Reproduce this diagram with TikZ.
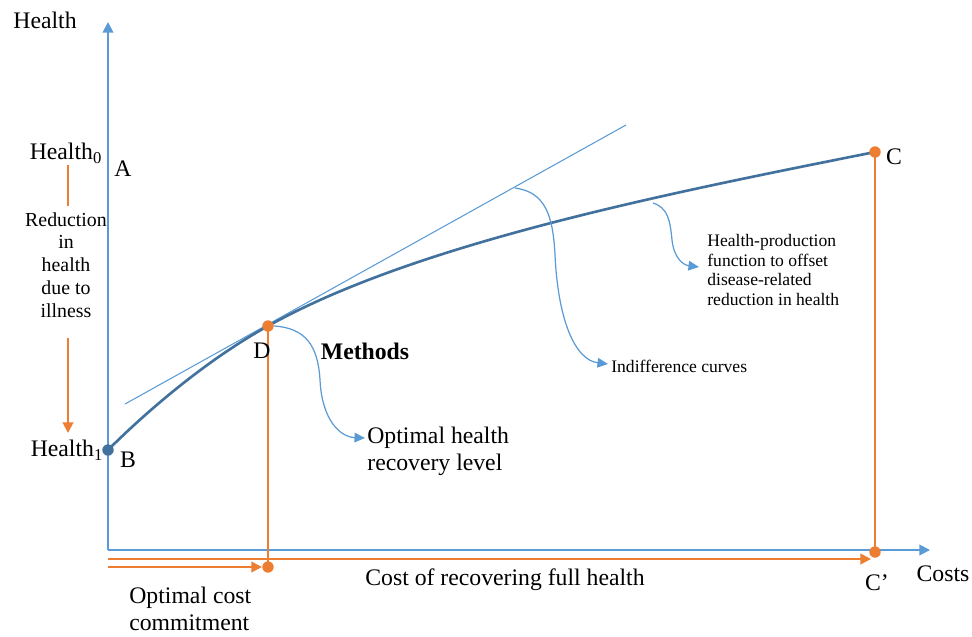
\documentclass[tikz,border=0pt]{standalone}
\usepackage{fontspec}
\setmainfont{Liberation Serif}
\usetikzlibrary{arrows.meta}
\definecolor{axisblue}{HTML}{5B9BD5}
\definecolor{curveblue}{HTML}{41719C}
\definecolor{costorange}{HTML}{ED7D31}

\begin{document}
\begin{tikzpicture}[x=0.02cm, y=-0.02cm,
        lbl/.style={font=\fontsize{13.5}{15.5}\selectfont, inner sep=0pt},
        note/.style={font=\fontsize{10}{11.3}\selectfont, inner sep=0pt, align=left},
        dot/.style={circle, fill, inner sep=0pt, minimum size=6.5pt},
        tip/.style={-{Triangle[length=6pt, width=6pt]}},
        smalltip/.style={-{Triangle[length=6pt, width=5.5pt]}},
        callout/.style={axisblue, line width=0.7pt, smalltip},
        costline/.style={costorange, line width=1.1pt}]
    \useasboundingbox (0,0) rectangle (972,636);

    \coordinate (O) at (108,550);
    \coordinate (ytop) at (108,22);
    \coordinate (xend) at (930,550);
    \coordinate (pB) at (108,450);
    \coordinate (pD) at (268,326);
    \coordinate (pC) at (875,152);
    \coordinate (pCp) at (875,552);
    \coordinate (pDb) at (268,567);
    \coordinate (t1) at (125,404);
    \coordinate (t2) at (626,125);
    \coordinate (tD) at (515,188);
    \coordinate (hpC) at (653,203);

    % axes
    \draw[axisblue, line width=1.1pt, tip] (O) -- (ytop);
    \draw[axisblue, line width=1.1pt, tip] (O) -- (xend);

    % tangent and production curve
    \draw[axisblue, line width=0.6pt] (t1) -- (t2);
    \draw[curveblue, line width=1.5pt] (pB) .. controls (148,410) and (208,359) .. (pD)
        .. controls (418,242) and (675,192) .. (pC);

    % cost lines
    \draw[costline] (pD) -- (pDb);
    \draw[costline] (pC) -- (pCp);
    \coordinate (s1) at (108,567);
    \coordinate (s2) at (108,559);
    \coordinate (e2) at (871,559);

    \node[dot, curveblue] (b) at (pB) {};
    \node[dot, costorange] (d) at (pD) {};
    \node[dot, costorange] (c) at (pC) {};
    \node[dot, costorange] (cp) at (pCp) {};
    \node[dot, costorange] (db) at (pDb) {};

    \draw[costline, tip] (s1) -- (db);
    \draw[costline, tip] (s2) -- (e2);

    % labels
    \node[lbl] (health) at (45,20) {Health};
    \node[lbl] (costs) at (943,574) {Costs};
    \node[lbl] (h0) at (66,153) {Health\textsubscript{0}};
    \node[lbl] (a) at (123,169) {A};
    \node[lbl] (h1) at (67,450) {Health\textsubscript{1}};
    \node[lbl] (blbl) at (128,460) {B};
    \node[lbl] (dlbl) at (262,351) {D};
    \node[lbl] (clbl) at (894,157) {C};
    \node[lbl] (cplbl) at (877,583) {C’};
    \node[font={\fontsize{13.5}{15.5}\selectfont\bfseries}, inner sep=0pt] (methods) at (365,351) {Methods};
    \node[lbl] (cost) at (505,580) {Cost of recovering full health};
    \node[lbl, align=left, anchor=west] (commit) at (129,609) {Optimal cost\\commitment};

    % reduction in health
    \node[font=\fontsize{11.3}{13}\selectfont, align=center, inner sep=0pt] (redu) at (66,265)
        {Reduction\\in\\health\\due to\\illness};
    \coordinate (r1) at (68,165);
    \coordinate (r2) at (68,206);
    \coordinate (r3) at (68,338);
    \coordinate (r4) at (68,433);
    \draw[costline] (r1) -- (r2);
    \draw[costline, tip] (r3) -- (r4);

    % callouts
    \node[lbl, align=left, anchor=west] (opt) at (367,451) {Optimal health\\recovery level};
    \node[note, anchor=west] (indiff) at (611,366) {Indifference curves};
    \node[note, anchor=west] (hpf) at (707,270)
        {Health-production\\function to offset\\disease-related\\reduction in health};

    \coordinate (optend) at (365,438);
    \coordinate (indend) at (608,364);
    \coordinate (hpfend) at (699,267);
    \draw[callout] (d.east) .. controls (305,328) and (318,345) .. (320,380)
        .. controls (322,420) and (340,437) .. (optend);
    \draw[callout] (tD) .. controls (545,192) and (553,215) .. (555,255)
        .. controls (558,320) and (575,360) .. (indend);
    \draw[callout] (hpC) .. controls (668,208) and (670,220) .. (672,240)
        .. controls (674,258) and (683,265) .. (hpfend);
\end{tikzpicture}
\end{document}
